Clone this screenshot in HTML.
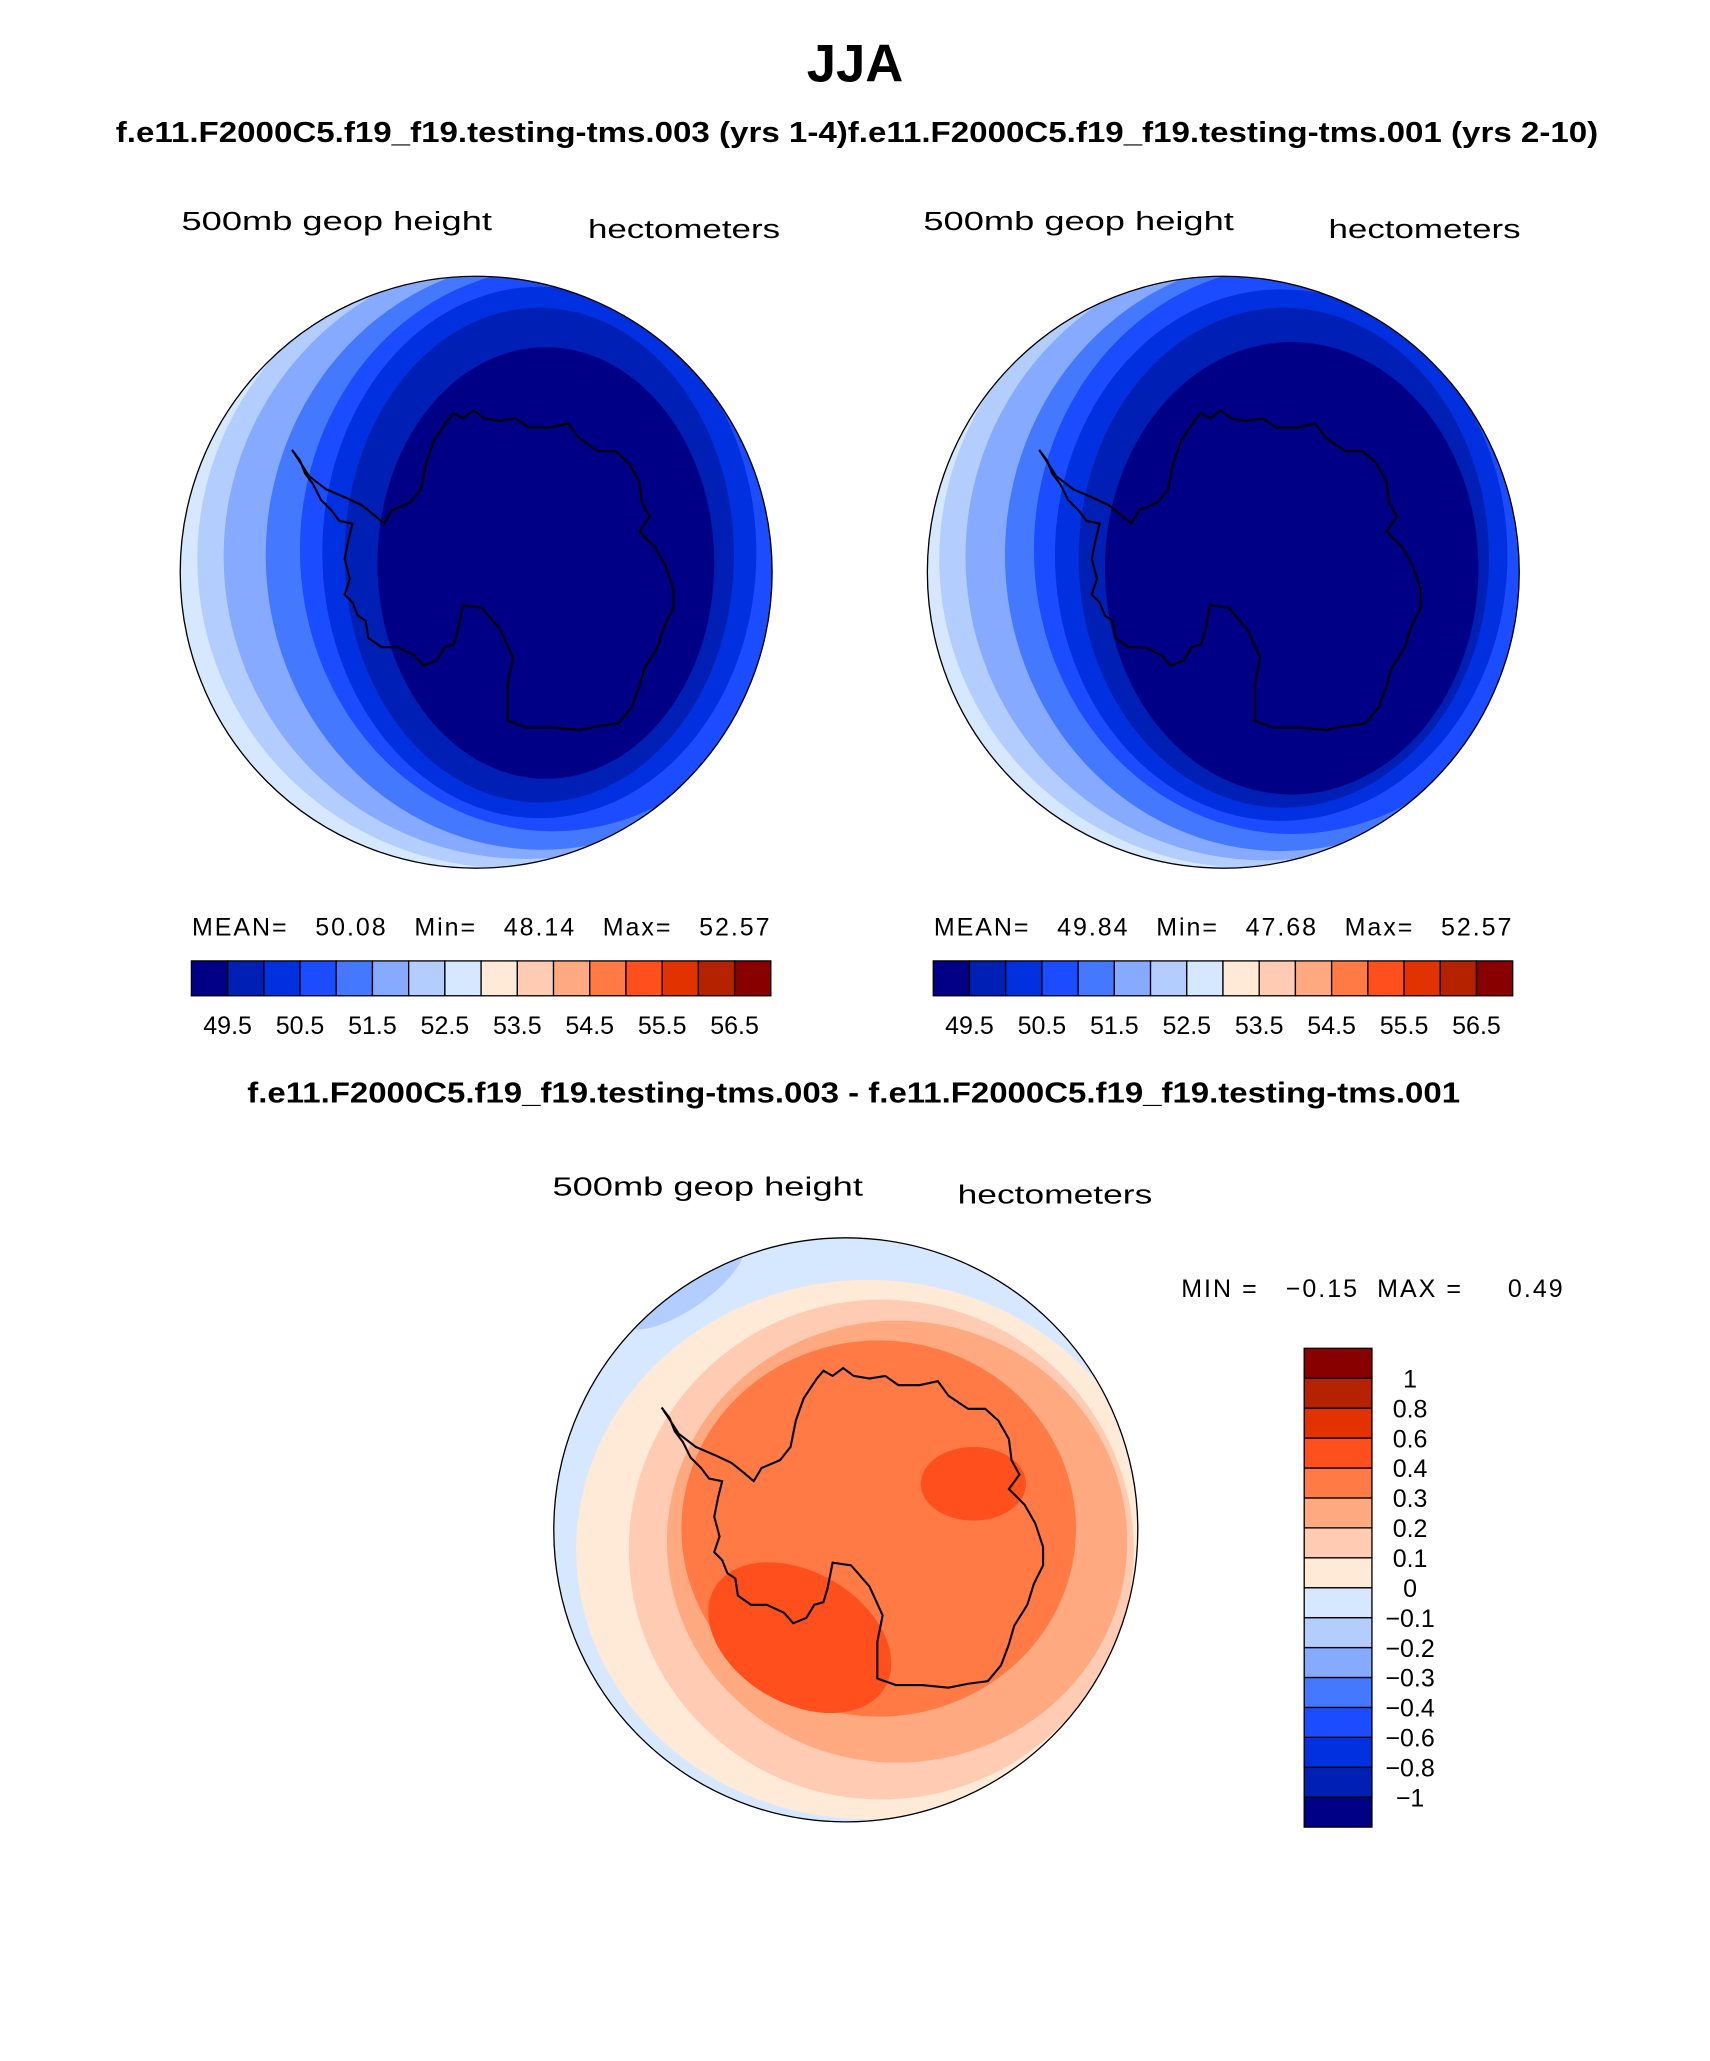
<!DOCTYPE html>
<html><head><meta charset="utf-8"><style>
html,body{margin:0;padding:0;background:#fff;}
svg{display:block;}
text{font-family:"Liberation Sans",sans-serif;}
</style></head><body>
<svg id="fig" width="1710" height="2061" viewBox="0 0 1300 1566.8" preserveAspectRatio="none" xmlns="http://www.w3.org/2000/svg">
<defs>
<clipPath id="c1"><circle cx="362" cy="435" r="225"/></clipPath>
<clipPath id="c2"><circle cx="930" cy="435" r="225"/></clipPath>
<clipPath id="c3"><circle cx="643" cy="1163" r="222"/></clipPath>
<path id="ant" d="M340,320 L345,314 L352,318 L360,312 L368,318 L380,320 L392,318 L402,325 L418,325 L432,322 L440,333 L455,343 L468,343 L478,352 L486,366 L488,382 L494,393 L486,404 L498,416 L506,430 L512,448 L512,462 L505,476 L500,492 L490,508 L486,522 L480,538 L470,550 L455,552 L440,555 L420,553 L400,553 L386,548 L386,520 L390,500 L380,478 L366,462 L352,460 L348,480 L345,490 L338,492 L332,502 L322,506 L315,498 L302,492 L290,492 L280,485 L278,472 L272,468 L268,458 L262,452 L266,440 L262,425 L265,410 L268,398 L258,396 L252,388 L244,380 L238,368 L232,360 L228,350 L222,342 L226,348 L235,362 L248,372 L262,378 L275,384 L285,392 L292,398 L298,388 L312,382 L320,372 L324,352 L330,335 Z" fill="none" stroke="#000" stroke-width="1.6"/>
</defs>
<text x="650" y="62" font-size="40" font-weight="bold" text-anchor="middle">JJA</text>
<text x="88" y="108" font-size="22" font-weight="bold" textLength="1127" lengthAdjust="spacingAndGlyphs">f.e11.F2000C5.f19_f19.testing-tms.003 (yrs 1-4)f.e11.F2000C5.f19_f19.testing-tms.001 (yrs 2-10)</text>

<g>
<text x="138" y="175" font-size="20" textLength="236" lengthAdjust="spacingAndGlyphs">500mb geop height</text>
<text x="447" y="181" font-size="20" textLength="146" lengthAdjust="spacingAndGlyphs">hectometers</text>
<g clip-path="url(#c1)">
<rect x="130" y="200" width="470" height="470" fill="#d6e8ff"/>
<ellipse cx="388" cy="425" rx="238" ry="235" fill="#b4cdff"/>
<ellipse cx="400" cy="423" rx="230" ry="230" fill="#85aaff"/>
<ellipse cx="412" cy="422" rx="210" ry="224" fill="#4479ff"/>
<ellipse cx="420" cy="418" rx="192" ry="214" fill="#1c4cff"/>
<ellipse cx="410" cy="420" rx="165" ry="202" fill="#0030e0"/>
<ellipse cx="410" cy="422" rx="148" ry="188" fill="#001fb4"/>
<ellipse cx="415" cy="428" rx="128" ry="164" fill="#000086"/>
<use href="#ant"/>
</g>
<circle cx="362" cy="435" r="225" fill="none" stroke="#000" stroke-width="1"/>
<text x="146" y="711" font-size="19" textLength="439" lengthAdjust="spacing" xml:space="preserve">MEAN=   50.08   Min=   48.14   Max=   52.57</text>
<g id="cb1"></g>
</g>

<g>
<text x="702" y="175" font-size="20" textLength="236" lengthAdjust="spacingAndGlyphs">500mb geop height</text>
<text x="1010" y="181" font-size="20" textLength="146" lengthAdjust="spacingAndGlyphs">hectometers</text>
<g clip-path="url(#c2)">
<rect x="698" y="200" width="470" height="470" fill="#d6e8ff"/>
<ellipse cx="952" cy="425" rx="238" ry="235" fill="#b4cdff"/>
<ellipse cx="962" cy="423" rx="228" ry="231" fill="#85aaff"/>
<ellipse cx="974" cy="422" rx="210" ry="225" fill="#4479ff"/>
<ellipse cx="982" cy="418" rx="196" ry="216" fill="#1c4cff"/>
<ellipse cx="974" cy="422" rx="172" ry="202" fill="#0030e0"/>
<ellipse cx="976" cy="424" rx="156" ry="190" fill="#001fb4"/>
<ellipse cx="982" cy="432" rx="142" ry="172" fill="#000086"/>
<use href="#ant" transform="translate(568,0)"/>
</g>
<circle cx="930" cy="435" r="225" fill="none" stroke="#000" stroke-width="1"/>
<text x="710" y="711" font-size="19" textLength="439" lengthAdjust="spacing" xml:space="preserve">MEAN=   49.84   Min=   47.68   Max=   52.57</text>
<g id="cb2"></g>
</g>

<g>
<text x="188" y="838" font-size="22" font-weight="bold" textLength="922" lengthAdjust="spacingAndGlyphs">f.e11.F2000C5.f19_f19.testing-tms.003 - f.e11.F2000C5.f19_f19.testing-tms.001</text>
<text x="420" y="909" font-size="20" textLength="236" lengthAdjust="spacingAndGlyphs">500mb geop height</text>
<text x="728" y="915" font-size="20" textLength="148" lengthAdjust="spacingAndGlyphs">hectometers</text>
<g clip-path="url(#c3)">
<rect x="415" y="935" width="460" height="460" fill="#d6e8ff"/>
<ellipse cx="520" cy="975" rx="55" ry="20" transform="rotate(-35 520 975)" fill="#b4cdff"/>
<ellipse cx="660" cy="1178" rx="222" ry="205" fill="#ffead8"/>
<ellipse cx="670" cy="1178" rx="192" ry="190" fill="#ffcbb2"/>
<ellipse cx="682" cy="1172" rx="175" ry="168" fill="#ffa980"/>
<ellipse cx="668" cy="1162" rx="150" ry="143" fill="#ff7a45"/>
<ellipse cx="608" cy="1245" rx="75" ry="50" transform="rotate(30 608 1245)" fill="#ff4f1c"/>
<ellipse cx="740" cy="1128" rx="40" ry="28" fill="#ff4f1c"/>
<use href="#ant" transform="translate(281,728)"/>
</g>
<circle cx="643" cy="1163" r="222" fill="none" stroke="#000" stroke-width="1"/>
<text x="898" y="986" font-size="19" textLength="290" lengthAdjust="spacing" xml:space="preserve">MIN =   −0.15  MAX =     0.49</text>
<g id="cb3"></g>
</g>
</svg>
<script>
const NS = "http://www.w3.org/2000/svg";
const colors = ["#000086","#001fb4","#0030e0","#1c4cff","#4479ff","#85aaff","#b4cdff","#d6e8ff","#ffead8","#ffcbb2","#ffa980","#ff7a45","#ff4f1c","#e13200","#b52200","#880000"];
const hLabels = ["49.5","50.5","51.5","52.5","53.5","54.5","55.5","56.5"];
const vLabels = ["-1","-0.8","-0.6","-0.4","-0.3","-0.2","-0.1","0","0.1","0.2","0.3","0.4","0.6","0.8","1"];

function hbar(gid, x0, x1, y0, y1) {
  const g = document.getElementById(gid);
  const w = (x1 - x0) / colors.length;
  colors.forEach((c, i) => {
    const r = document.createElementNS(NS, "rect");
    r.setAttribute("x", x0 + i * w); r.setAttribute("y", y0);
    r.setAttribute("width", w); r.setAttribute("height", y1 - y0);
    r.setAttribute("fill", c); r.setAttribute("stroke", "#000"); r.setAttribute("stroke-width", "1");
    
    
    g.appendChild(r);
  });
  hLabels.forEach((l, k) => {
    const t = document.createElementNS(NS, "text");
    t.setAttribute("x", x0 + (2 * k + 1) * w); t.setAttribute("y", y1 + 29);
    t.setAttribute("font-size", "19"); t.setAttribute("text-anchor", "middle");
    t.textContent = l;
    
    
    g.appendChild(t);
  });
}
hbar("cb1", 145.5, 586, 730.5, 757);
hbar("cb2", 709.5, 1150, 730.5, 757);

(function () {
  const g = document.getElementById("cb3");
  const x0 = 991.5, x1 = 1043, yTop = 1025, yBot = 1389;
  const h = (yBot - yTop) / colors.length;
  colors.forEach((c, i) => {
    const r = document.createElementNS(NS, "rect");
    r.setAttribute("x", x0); r.setAttribute("y", yBot - (i + 1) * h);
    r.setAttribute("width", x1 - x0); r.setAttribute("height", h);
    r.setAttribute("fill", c); r.setAttribute("stroke", "#000"); r.setAttribute("stroke-width", "1");
    
    
    g.appendChild(r);
  });
  vLabels.forEach((l, k) => {
    const t = document.createElementNS(NS, "text");
    t.setAttribute("x", 1072); t.setAttribute("y", yBot - (k + 1) * h + 7);
    t.setAttribute("font-size", "19"); t.setAttribute("text-anchor", "middle");
    t.textContent = l.replace("-", "\u2212");
    
    
    g.appendChild(t);
  });
})();
</script>
</body></html>
